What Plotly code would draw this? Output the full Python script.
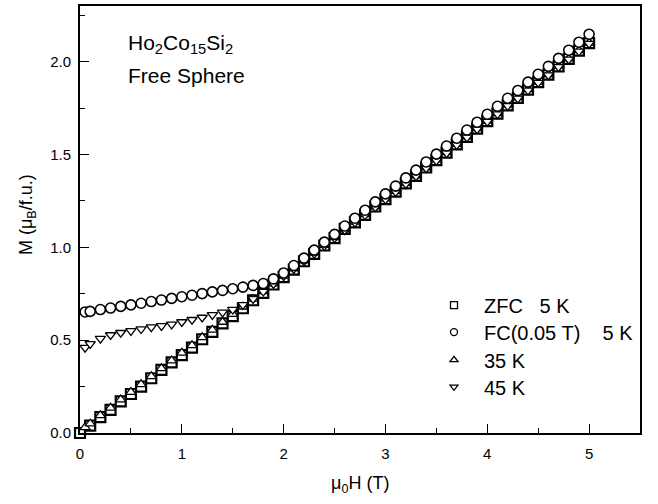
import plotly.graph_objects as go

# ---- data ----
H_zfc = [0.0,0.1,0.2,0.3,0.4,0.5,0.6,0.7,0.8,0.9,1.0,1.1,1.2,1.3,1.4,1.5,1.6,1.7,1.8,1.9,
         2.0,2.1,2.2,2.3,2.4,2.5,2.6,2.7,2.8,2.9,3.0,3.1,3.2,3.3,3.4,3.5,3.6,3.7,3.8,3.9,
         4.0,4.1,4.2,4.3,4.4,4.5,4.6,4.7,4.8,4.9,5.0]
M_zfc = [0.000,0.040,0.085,0.125,0.170,0.210,0.250,0.295,0.340,0.380,0.420,0.460,0.505,0.545,0.590,0.630,0.672,0.715,0.755,0.800,
         0.840,0.880,0.925,0.965,1.010,1.050,1.100,1.135,1.175,1.220,1.260,1.300,1.345,1.385,1.430,1.470,1.510,1.555,1.595,1.640,
         1.680,1.720,1.765,1.805,1.850,1.890,1.930,1.975,2.015,2.060,2.100]

H_other = [0.05,0.1,0.2,0.3,0.4,0.5,0.6,0.7,0.8,0.9,1.0,1.1,1.2,1.3,1.4,1.5,1.6,1.7,1.8,1.9,
           2.0,2.1,2.2,2.3,2.4,2.5,2.6,2.7,2.8,2.9,3.0,3.1,3.2,3.3,3.4,3.5,3.6,3.7,3.8,3.9,
           4.0,4.1,4.2,4.3,4.4,4.5,4.6,4.7,4.8,4.9,5.0]
M_fc = [0.652,0.655,0.665,0.673,0.682,0.690,0.699,0.708,0.716,0.725,0.734,0.742,0.751,0.760,0.768,0.777,0.786,0.795,0.805,0.830,
        0.862,0.902,0.942,0.985,1.028,1.070,1.115,1.157,1.200,1.245,1.288,1.330,1.374,1.416,1.460,1.502,1.546,1.588,1.632,1.674,
        1.717,1.760,1.803,1.845,1.890,1.932,1.975,2.018,2.062,2.105,2.148]
M_35 = [0.030,0.050,0.095,0.135,0.180,0.220,0.262,0.305,0.348,0.390,0.432,0.472,0.515,0.556,0.598,0.640,0.680,0.722,0.763,0.805,
        0.846,0.886,0.928,0.970,1.012,1.054,1.096,1.137,1.178,1.220,1.262,1.303,1.346,1.387,1.430,1.472,1.512,1.556,1.597,1.641,
        1.682,1.722,1.767,1.807,1.851,1.892,1.932,1.977,2.017,2.061,2.102]
M_45 = [0.460,0.480,0.508,0.528,0.540,0.550,0.560,0.570,0.577,0.585,0.598,0.610,0.622,0.636,0.650,0.665,0.690,0.722,0.762,0.803,
        0.845,0.884,0.925,0.966,1.008,1.050,1.092,1.133,1.174,1.216,1.258,1.299,1.342,1.383,1.426,1.467,1.508,1.552,1.592,1.636,
        1.677,1.718,1.762,1.802,1.846,1.887,1.928,1.972,2.012,2.056,2.097]

NB = "\u00a0"
legend_names = ["ZFC" + NB * 2 + " 5 K", "FC(0.05 T)" + NB * 3 + " 5 K", "35 K", "45 K"]
legend_symbols = ["square-open", "circle-open", "triangle-up-open", "triangle-down-open"]

FONT = "Liberation Sans, Arial, Helvetica, sans-serif"

fig = go.Figure()

def data_trace(x, y, symbol, size, lw):
    return go.Scatter(x=x, y=y, mode="markers", showlegend=False, cliponaxis=False,
                      marker=dict(symbol=symbol, size=size, color="white",
                                  line=dict(color="black", width=lw)))

fig.add_trace(data_trace(H_zfc, M_zfc, "square", 10, 2.2))
fig.add_trace(data_trace(H_other, M_35, "triangle-up", 9, 1.3))
fig.add_trace(data_trace(H_other, M_45, "triangle-down", 9, 1.3))
fig.add_trace(data_trace(H_other, M_fc, "circle", 10, 1.6))

L, R, T, B = 80, 18, 4, 71
PW, PH = 658 - L - R, 504 - T - B

def px_x(px):
    return (px - L) / PW

def px_y(py):
    return (504 - B - py) / PH

# legend-only entries, one small legend per row so rows sit where the reference has them
legend_rows_px = [305, 332, 360, 387]
legend_layouts = {}
for i, (nm, sym, row) in enumerate(zip(legend_names, legend_symbols, legend_rows_px)):
    lg = "legend" if i == 0 else f"legend{i + 1}"
    fig.add_trace(go.Scatter(x=[None], y=[None], mode="markers", name=nm, legend=lg,
                             marker=dict(symbol=sym, size=7, color="black",
                                         line=dict(color="black", width=1.3))))
    legend_layouts[lg] = dict(x=px_x(424), y=px_y(row - 20), xanchor="left", yanchor="top",
                              bgcolor="rgba(0,0,0,0)", borderwidth=0, itemwidth=50,
                              font=dict(family=FONT, size=20, color="black"))

axis_common = dict(showline=True, linecolor="black", linewidth=2, mirror=True,
                   ticks="inside", ticklen=9, tickwidth=1.3, tickcolor="black",
                   showgrid=False, zeroline=False,
                   tickfont=dict(family=FONT, size=15, color="black"))

fig.update_xaxes(range=[0, 5.5], dtick=1, tick0=0, ticklabelstandoff=6,
                 minor=dict(dtick=0.5, ticks="inside", ticklen=5, tickwidth=1.3, tickcolor="black"),
                 **axis_common)
fig.update_yaxes(range=[0, 2.3], dtick=0.5, tick0=0, tickformat=".1f", ticklabelstandoff=4,
                 minor=dict(dtick=0.25, ticks="inside", ticklen=5, tickwidth=1.3, tickcolor="black"),
                 **axis_common)

annotations = [
    dict(text="Ho<sub>2</sub>Co<sub>15</sub>Si<sub>2</sub>", x=px_x(126), y=px_y(42),
         xanchor="left", yanchor="middle", font=dict(family=FONT, size=21, color="black")),
    dict(text="Free Sphere", x=px_x(126), y=px_y(74),
         xanchor="left", yanchor="middle", font=dict(family=FONT, size=21, color="black")),
    dict(text="M (\u03bc<sub>B</sub>/f.u.)", x=px_x(27), y=px_y(214), textangle=-90,
         xanchor="center", yanchor="middle", font=dict(family=FONT, size=18, color="black")),
    dict(text="\u03bc<sub>0</sub>H (T)", x=0.5, y=px_y(485),
         xanchor="center", yanchor="middle", font=dict(family=FONT, size=18, color="black")),
]
for a in annotations:
    a.update(xref="paper", yref="paper", showarrow=False)

fig.update_layout(
    width=658, height=504,
    margin=dict(l=L, r=R, t=T, b=B, pad=0),
    paper_bgcolor="white", plot_bgcolor="white",
    annotations=annotations,
    **legend_layouts,
)

fig.write_html("out.html")
